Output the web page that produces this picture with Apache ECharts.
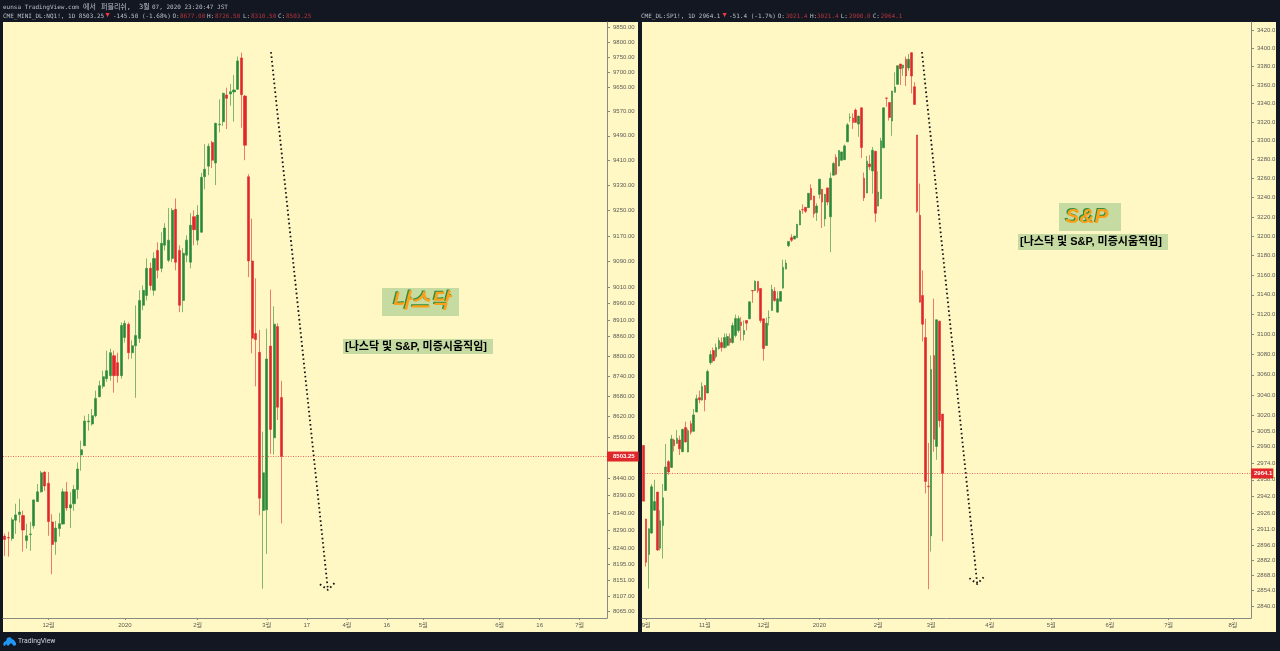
<!DOCTYPE html>
<html><head><meta charset="utf-8"><style>html,body{margin:0;padding:0;background:#131722}#c{width:1280px;height:651px}</style>
<script src="https://cdn.jsdelivr.net/npm/echarts@6/dist/echarts.min.js"></script></head>
<body><div id="c"></div><script>
// [open, close, low, high]
const nqCandles=[[8274.7,8265.1,8219,8282],[8270.8,8269.2,8217,8287],[8268,8321,8261.4,8327.6],[8320,8335,8281,8367],[8336,8343,8313,8381],[8333,8292,8231,8347],[8262,8275.6,8239.5,8310],[8279,8281,8233,8315],[8304,8378,8296,8379],[8373,8401,8372,8423.4],[8401,8456,8399,8462],[8458,8418,8404,8460],[8426,8316,8275.6,8458],[8315,8251,8167.6,8337],[8258.6,8297.5,8222,8318],[8296,8310,8273.6,8341],[8309,8401,8308,8410.7],[8401,8355,8346.6,8429],[8355,8364,8297.5,8401],[8367,8408,8346.6,8420.5],[8408,8467,8381,8486],[8508,8523,8462,8549.4],[8534.7,8607,8534,8623],[8605,8607,8579,8628],[8598.5,8623,8593.5,8642.6],[8623,8674,8618,8697],[8679,8712,8678,8727],[8710,8739,8703,8757],
[8733,8757,8724,8817],[8742,8811,8727,8823],[8802,8742,8691,8817],[8781,8742,8721,8811],[8742,8893.5,8733,8903],[8857,8900,8841.5,8909],[8897,8811,8791,8903],[8811,8832,8793,8848],[8832,8863,8676,8955],[8854,8970,8841,9001],[8955,9001,8940,9016],[8985.5,9069,8970,9100],[9069,9016,9001,9087],[9001,9100,8985,9119],[9125,9063,9038,9150],[9069,9147,9057,9182],[9141,9195,9125,9210],[9094,9157,9088,9258],[9100,9251,9088,9258],[9254,9088,9063,9289],[9125,8955,8934,9141],[8970,9116,8934,9132],[9110,9157,9088,9172],[9088,9204,9069,9242],[9231,9190,9141,9251],[9157,9236,9141,9267],
[9182,9356,9180,9370],[9358,9382,9318,9463],[9392,9456,9363,9465],[9468,9411,9386,9473.5],[9402,9530.6,9331,9532.5],[9526,9528,9501,9609],[9536,9629,9522,9631],[9623.6,9612.6,9512,9648],[9627,9634.6,9588,9660],[9633.6,9640,9536,9690],[9642.5,9736.5,9640,9751],[9746.4,9624.6,9516,9764],[9620,9459.4,9411,9623.6],[9358,9092,9042,9366],[9092,8854.6,8809,9225],[8869,8850.7,8710,9038],[8812,8383,8334,8880],[8347.5,8456,8127,8576],[8349.5,8792,8224.4,8884],[8831,8582.6,8511,9003],[8558,8897.5,8509,8952],[8890,8648,8610,8900],[8677,8503.25,8310.5,8726.5]];
const spCandles=[[2991,2937.7,2937.7,2991],[2920.8,2880.4,2876.4,2921],[2887.5,2911.6,2856,2912],[2907.6,2951.4,2907,2954],[2929.2,2937.3,2928.5,2958],[2946.3,2891.8,2890.9,2946.5],[2893.4,2919.2,2891.2,2929.2],[2914.7,2940.9,2883.8,2954],[2947.9,2970.3,2947.5,2992.4],[2975.4,2965.5,2962.9,2977],[2969.9,2997.3,2969.5,3001.2],[2996.3,2990.8,2985.2,2997.6],[2993,2997.9,2992.7,3006],[2996.3,2987.8,2981.8,3000.5],[2985,3006.6,2984.5,3007],[3008.3,2994.4,2994,3014.1],[2984.7,3005.3,2984.5,3007.3],[3012.1,3003.7,3001.5,3015],[3004.7,3020.6,3004.4,3026.4],[3023.5,3036.5,3023.3,3040.4],[3037.5,3035.5,3031.9,3044.4],[3035.2,3048.4,3034.5,3052.6],[3049.4,3035.5,3024.1,3049.6],[3042.1,3063.2,3041.8,3065.2],
[3072,3080,3070,3084],[3084,3074,3072,3087],[3078,3087,3076,3091],[3086,3094,3085,3097],[3092,3087,3083,3097],[3087,3097,3086,3101],[3089,3098,3087,3101],[3096,3092,3089,3101],[3092,3109,3091,3112],[3099,3116,3097,3120],[3104,3116,3102,3119],
[3112.4,3109.1,3094,3117.4],[3100.1,3104.1,3094,3114.1],[3114.1,3111.4,3104.1,3114.5],[3115.8,3132.9,3115.5,3133.2],[3144.3,3143.9,3131.9,3144.5],[3144.4,3153.9,3144.2,3154.6],[3153.6,3144.1,3141.7,3153.8],[3146.5,3114.1,3111.8,3146.8],[3115.8,3086,3074,3116],[3089,3111.4,3088.5,3117.1],[3117,3117.3,3109,3124.2],[3124.2,3145.4,3124,3150.2],[3143.7,3134.2,3133,3147.8],[3122.5,3135.9,3122.3,3143.4],[3133.5,3143.4,3133.2,3143.7],[3146.8,3168,3146.2,3175.8],[3166.2,3172.3,3166,3175.8],[3190.2,3194.6,3188.7,3194.8],[3198.5,3195.7,3193.9,3201.9],[3197,3200.1,3196.8,3200.4],[3198.5,3212.3,3198.3,3212.6],[3211.6,3226.1,3211.4,3227.5],[3227.7,3227.3,3223.3,3233],[3229.9,3225.8,3224,3230.1],[3229.6,3244.6,3229.4,3244.9],[3249.6,3237.9,3237.2,3254],[3241.7,3223.3,3219.1,3242],[3224.4,3231.2,3215.8,3234.1],[3243.5,3259.4,3239,3259.7],[3248.8,3235.4,3208.4,3249],[3217.8,3243.5,3210.2,3243.8],[3250.2,3235.4,3232,3250.5],[3220,3260.4,3183.5,3266.4],[3263.6,3275.9,3263.4,3277.6],[3282.3,3264.7,3263.6,3285.7],[3273.4,3289.7,3272.9,3290],[3279.3,3288.2,3279,3288.5],[3280,3294.6,3279.8,3296.1],[3298.9,3317.1,3298.7,3319],[3324.8,3325.2,3320.4,3329.4],[3324.3,3319.7,3312.5,3329.4],[3332.9,3319.7,3319.5,3334.7],[3317.9,3326.5,3304.3,3326.8],[3335.3,3292.9,3281.8,3335.6],[3260.4,3240,3236.5,3266.4],[3244.9,3278.4,3244.6,3284],[3275.5,3272.4,3268.9,3284.7],[3268.1,3290,3244.3,3293.5],[3288.9,3223.7,3214.7,3289.2],[3231.2,3246,3231,3267.8],[3239,3300,3238.8,3303.2],[3292.5,3335.3,3292.3,3335.6],[3346,3345.6,3336.4,3346.4],[3341.1,3325,3321.6,3341.4],[3321.1,3353.4,3305.3,3353.7],[3352,3357.8,3351.8,3373.8],[3360.7,3381,3360.4,3381.3],[3382.8,3377.7,3360,3383],[3378.5,3381.7,3370,3382],[3388,3369.8,3358.9,3390.8],[3378.5,3388,3375.5,3393.7],[3395.2,3369.8,3350.9,3395.5],[3358.1,3339,3338.8,3362.9],[3306.1,3225.8,3224,3306.4],[3221.6,3132.5,3132.3,3254.8],[3139.3,3110.4,3093,3164.9],[3097,2956.5,2945,3115.8],[2952,2951.4,2855.4,2993.4],[2905,3065.2,2890.3,3079],[3079,2996.9,2985,3136.2],[2990,3114.8,2977.2,3115],[3113.4,3015,3008.5,3114],[3021.4,2964.1,2900,3021.4]];
const nqPriceTicks=[9850,9800,9750,9700,9650,9570,9490,9410,9330,9250,9170,9090,9010,8960,8910,8860,8800,8740,8680,8620,8560,8440,8390,8340,8290,8240,8195,8151,8107,8065];
const spPriceTicks=[3420,3400,3380,3360,3340,3320,3300,3280,3260,3240,3220,3200,3180,3160,3140,3120,3100,3080,3060,3040,3020,3005,2990,2974,2958,2942,2926,2911,2896,2882,2868,2854,2840];
const nqDateSlots=[12,33,53,72,83,94,105,115,136,147,158];
const nqDateLabels=['12월','2020','2월','3월','17','4월','16','5월','6월','16','7월'];
const spDateSlots=[1,22,43,63,84,103,124,146,167,188,211];
const spDateLabels=['9월','11월','12월','2020','2월','3월','4월','5월','6월','7월','8월'];
const nqSlotCount=166, spSlotCount=218;
const nqLast=8503.25, spLast=2964.1;
const nqRange=[8046,9867], spRange=[2829,3429];
// dotted hand-drawn arrows: [slot, price]
const nqArrow=[[73.65,9766],[89.3,8123.6],[null,null],[87.1,8139.6],[89.3,8123.6],[91.23,8144]];
const spArrow=[[100.2,3395.9],[120,2860.3],[null,null],[117.2,2865.6],[120,2860.1],[122.4,2866.8]];

const UP='#2b8a3a',DN='#e0282c',BG='#fff8c4',DARK='#131722',AX='#8a8a80',TXT='#5a5a55',LAB='#c6dba2';
const MONO='"DejaVu Sans Mono","Noto Sans CJK KR",monospace',SANS='"Liberation Sans","Noto Sans CJK KR",sans-serif';
const cats=(n,slots,labs)=>Array.from({length:n},(_,i)=>{const k=slots.indexOf(i);return k>=0?labs[k]:''});
const show=(i,v)=>v!=='';
function xCat(grid,n,slots,labs){return {type:'category',gridIndex:grid,data:cats(n,slots,labs),boundaryGap:true,
 axisLine:{onZero:false,lineStyle:{color:AX,width:1}},axisTick:{show:true,interval:show,alignWithLabel:true,length:2,lineStyle:{color:AX}},
 axisLabel:{interval:show,color:TXT,fontSize:6,fontFamily:SANS,margin:4,hideOverlap:false},splitLine:{show:false}}}
function xVal(grid,n){return {type:'value',gridIndex:grid,min:0,max:n,show:false}}
function yLog(grid,r,ticks,dec){return {type:'log',logBase:10,gridIndex:grid,position:'right',min:r[0],max:r[1],scale:true,
 axisLine:{show:true,onZero:false,lineStyle:{color:AX,width:1}},axisTick:{show:true,length:3,customValues:ticks,lineStyle:{color:AX}},
 axisLabel:{customValues:ticks,color:TXT,fontSize:6,fontFamily:SANS,margin:6,formatter:v=>(+v).toFixed(dec),showMinLabel:true,showMaxLabel:true},splitLine:{show:false},minorTick:{show:false}}}
function candles(x,y,data,last,dec,bw,pad){return {type:'candlestick',xAxisIndex:x,yAxisIndex:y,data,barWidth:bw,
 itemStyle:{color:UP,color0:DN,borderColor:'rgba(43,138,58,.6)',borderColor0:'rgba(224,40,44,.6)',borderWidth:1},
 markLine:{silent:true,symbol:'none',animation:false,lineStyle:{color:'#e2474b',type:[1,1.5],width:.8},
  data:[{yAxis:last}],label:{show:true,position:'end',distance:0,formatter:()=>last.toFixed(dec),color:'#fff',fontSize:6,fontWeight:'bold',fontFamily:SANS,backgroundColor:DN,padding:pad}}}}
function arrow(x,y,data){return {type:'line',xAxisIndex:x,yAxisIndex:y,data,showSymbol:false,connectNulls:false,silent:true,clip:false,
 lineStyle:{color:'#111',width:1.8,type:[1.6,2.8]}}}
function t(x,y,text,fill,o){return {type:'text',x,y,z:50,style:Object.assign({text,fill,fontSize:6,fontFamily:MONO,textVerticalAlign:'middle'},o||{})}}
function box(x,y,w,h,fill,z){return {type:'rect',z:z===undefined?-5:z,shape:{x,y,width:w,height:h},style:{fill}}}
const ttlStyle={fontFamily:SANS,fontSize:21,fontWeight:'bold',fontStyle:'italic',textAlign:'center'};
const title=(cx,cy,s)=>[t(cx-1.2,cy-1.2,s,'#2f8f3c',ttlStyle),Object.assign(t(cx,cy,s,'#f9a11d',ttlStyle),{z:51})];
const note=(cx,cy)=>t(cx,cy,'[나스닥 및 S&P, 미증시움직임]','#000',{fontFamily:SANS,fontSize:11,fontWeight:'bold',textAlign:'center'});
const red='#b5363a',lab='#bcbfc6';
const chart=echarts.init(document.getElementById('c'),null,{renderer:'canvas'});
chart.setOption({animation:false,backgroundColor:DARK,
 grid:[{left:3,right:673,top:22,bottom:33,containLabel:false},{left:642,right:29,top:22,bottom:33,containLabel:false}],
 xAxis:[xCat(0,nqSlotCount,nqDateSlots,nqDateLabels),xVal(0,nqSlotCount),xCat(1,spSlotCount,spDateSlots,spDateLabels),xVal(1,spSlotCount)],
 yAxis:[yLog(0,nqRange,nqPriceTicks,2),yLog(1,spRange,spPriceTicks,1)],
 series:[candles(0,0,nqCandles,nqLast,2,2.6,[2,4,2,6]),arrow(1,0,nqArrow),candles(2,1,spCandles,spLast,1,2.1,[2,1,2,3]),arrow(3,1,spArrow)],
 graphic:[box(3,22,635,610,BG),box(642,22,634,610,BG),
  t(3,7,'eunsa TradingView.com',lab),t(83,7,'에서',lab,{fontSize:7}),t(101,7,'퍼블리쉬,',lab,{fontSize:7}),t(139,7,'3월',lab,{fontSize:7}),t(152,7,'07, 2020 23:20:47 JST',lab),
  t(3,16.5,'CME_MINI_DL:NQ1!, 1D 8503.25',lab),t(105.5,15.5,'▼','#f23645',{fontSize:7}),t(113,16.5,'-145.50 (-1.68%)',lab),
  t(172.5,16.5,'O:',lab),t(180,16.5,'8677.00',red),t(207,16.5,'H:',lab),t(215,16.5,'8726.50',red),t(243,16.5,'L:',lab),t(251,16.5,'8310.50',red),t(278,16.5,'C:',lab),t(286,16.5,'8503.25',red),
  t(641,16.5,'CME_DL:SP1!, 1D 2964.1',lab),t(722.5,15.5,'▼','#f23645',{fontSize:7}),t(729,16.5,'-51.4 (-1.7%)',lab),
  t(777.7,16.5,'O:',lab),t(785.7,16.5,'3021.4',red),t(810,16.5,'H:',lab),t(817,16.5,'3021.4',red),t(840.7,16.5,'L:',lab),t(849,16.5,'2900.0',red),t(872.7,16.5,'C:',lab),t(880.7,16.5,'2964.1',red),
  box(382,288,77,28,LAB,40),...title(420.5,302,'나스닥'),box(343,339,150,15,LAB,40),note(416,346.5),
  box(1059,203,62,28,LAB,40),...title(1087,217,'S&P'),box(1018,234,150,16,LAB,40),note(1091,242),
  {type:'polygon',z:50,shape:{points:[[3,645],[4,642],[6,641],[7,638],[10,637],[12,639],[14,640],[16,643],[16,645],[14,646],[11,643],[8,646],[6,644],[5,646]]},style:{fill:'#2196f3'}},
  t(18,641.5,'TradingView','#d1d4dc',{fontFamily:'Roboto,'+SANS,fontSize:6.8})
 ]});
</script></body></html>
